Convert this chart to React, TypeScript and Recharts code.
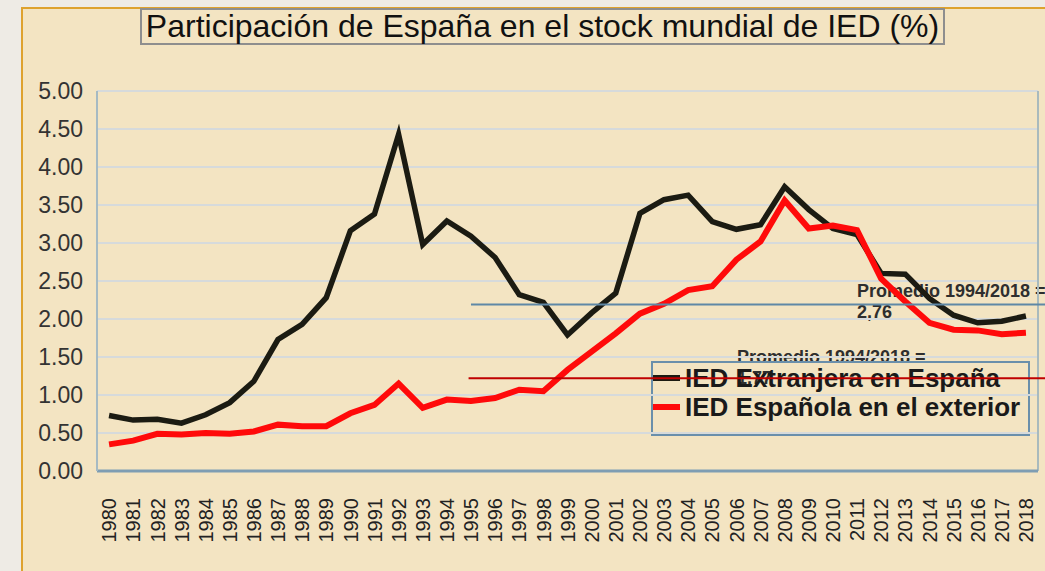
import { LineChart, Line, XAxis, YAxis, CartesianGrid, ReferenceLine, Legend } from 'recharts'

const years = [
  1980, 1981, 1982, 1983, 1984, 1985, 1986, 1987, 1988, 1989,
  1990, 1991, 1992, 1993, 1994, 1995, 1996, 1997, 1998, 1999,
  2000, 2001, 2002, 2003, 2004, 2005, 2006, 2007, 2008, 2009,
  2010, 2011, 2012, 2013, 2014, 2015, 2016, 2017, 2018,
]

// IED Extranjera en España (% del stock mundial)
const iedExtranjera = [
  0.73, 0.67, 0.68, 0.63, 0.74, 0.90, 1.18, 1.73, 1.93, 2.28,
  3.16, 3.38, 4.43, 2.98, 3.29, 3.09, 2.81, 2.32, 2.22, 1.79,
  2.08, 2.34, 3.39, 3.57, 3.63, 3.28, 3.18, 3.24, 3.74, 3.44,
  3.19, 3.11, 2.60, 2.59, 2.27, 2.05, 1.95, 1.97, 2.04,
]

// IED Española en el exterior
const iedEspanola = [
  0.35, 0.40, 0.49, 0.48, 0.50, 0.49, 0.52, 0.61, 0.59, 0.59,
  0.76, 0.87, 1.15, 0.83, 0.94, 0.92, 0.96, 1.07, 1.05, 1.33,
  1.57, 1.81, 2.07, 2.20, 2.38, 2.43, 2.78, 3.02, 3.56, 3.19,
  3.23, 3.17, 2.53, 2.23, 1.95, 1.86, 1.85, 1.80, 1.82,
]

const yTicks = [0, 0.5, 1, 1.5, 2, 2.5, 3, 3.5, 4, 4.5, 5]

const promedioExt = 2.19
const promedioEsp = 1.22

const data = years.map((year, i) => ({ year, ext: iedExtranjera[i], esp: iedEspanola[i] }))

const FONT = '"Liberation Sans", Arial, sans-serif'

const YearTick = (props: any) => {
  const { x, y, payload } = props
  return (
    <text x={x} y={y} transform={`rotate(-90 ${x} ${y})`} textAnchor="end" dy="0.36em"
      fontSize={20} fill="#222" fontFamily={FONT}>
      {payload.value}
    </text>
  )
}

const renderLegend = () => (
  <div style={{ width: 379, height: 75, border: '2px solid #6a8fab', boxSizing: 'border-box', position: 'relative', fontFamily: FONT }}>
    {[
      { name: 'IED Extranjera en España', color: '#1b1b12', top: 15 },
      { name: 'IED Española en el exterior', color: '#ff0a0a', top: 44 },
    ].map(e => (
      <div key={e.name}>
        <div style={{ position: 'absolute', left: 0, top: e.top - 3, width: 27, height: 6, background: e.color }} />
        <div style={{ position: 'absolute', left: 32, top: e.top - 14, fontSize: 26, fontWeight: 700, lineHeight: '28px', color: '#1a1a1a', whiteSpace: 'nowrap' }}>
          {e.name}
        </div>
      </div>
    ))}
  </div>
)

const noteStyle: React.CSSProperties = {
  position: 'absolute', fontFamily: FONT, fontSize: 18, fontWeight: 700, lineHeight: '21px',
  color: '#2e2e2e', whiteSpace: 'nowrap', zIndex: -1,
}

export default function App() {
  return (
    <div style={{ position: 'absolute', left: 0, top: 0, width: 1045, height: 571, overflow: 'hidden', background: '#eeebe5', isolation: 'isolate' }}>
      <div style={{ position: 'absolute', left: 21, top: 7, width: 1030, height: 570, background: '#f3e4c2', borderLeft: '2px solid #dea22e', borderTop: '2px solid #dea22e' }} />
      <div style={{ position: 'absolute', left: 0, top: 0, width: 1045, height: 571, zIndex: 1 }}>
        <div style={{
          position: 'absolute', left: 140, top: 8, width: 805, height: 37, boxSizing: 'border-box',
          border: '2px solid #8e8e8e', fontFamily: FONT, fontSize: 32, lineHeight: '33px', textAlign: 'center', color: '#111',
        }}>
          Participación de España en el stock mundial de IED (%)
        </div>
        <div style={{ ...noteStyle, left: 857, top: 281 }}>Promedio 1994/2018 =<br />2,76</div>
        <div style={{ ...noteStyle, left: 737, top: 347 }}>Promedio 1994/2018 =<br />1,77</div>
        <LineChart width={1045} height={571} data={data} margin={{ top: 91, right: 7, bottom: 20, left: 17 }}>
          <CartesianGrid vertical={false} stroke="#d6dadb" strokeWidth={2} />
          <XAxis type="number" dataKey="year" domain={[1979.5, 2018.5]} ticks={years} interval={0}
            height={80} tickSize={0} tickMargin={27} tick={<YearTick />}
            axisLine={{ stroke: '#7e9db3', strokeWidth: 3 }} tickLine={false} />
          <YAxis domain={[0, 5]} ticks={yTicks} width={80} tickSize={0} tickMargin={14}
            tickFormatter={(v: number) => v.toFixed(2)}
            tick={{ fontSize: 23, fill: '#333', fontFamily: FONT }}
            axisLine={{ stroke: '#a6bac3', strokeWidth: 2 }} tickLine={false} />
          <ReferenceLine x={2018.5} stroke="#a9babd" strokeWidth={2} />
          <Legend layout="horizontal" verticalAlign="middle" align="center" content={renderLegend}
            wrapperStyle={{ position: 'absolute', left: 651, top: 361, width: 379, height: 75, zIndex: -1 }} />
          <Line type="linear" dataKey="ext" name="IED Extranjera en España" stroke="#1b1b12" strokeWidth={5.5}
            dot={false} isAnimationActive={false} />
          <Line type="linear" dataKey="esp" name="IED Española en el exterior" stroke="#ff0a0a" strokeWidth={6}
            dot={false} isAnimationActive={false} />
          <ReferenceLine segment={[{ x: 1995, y: promedioExt }, { x: 2018.85, y: promedioExt }]}
            stroke="#5f88a6" strokeWidth={2} ifOverflow="visible" />
          <ReferenceLine segment={[{ x: 1994.9, y: promedioEsp }, { x: 2018.85, y: promedioEsp }]}
            stroke="#c00000" strokeWidth={2} ifOverflow="visible" />
        </LineChart>
      </div>
    </div>
  )
}
